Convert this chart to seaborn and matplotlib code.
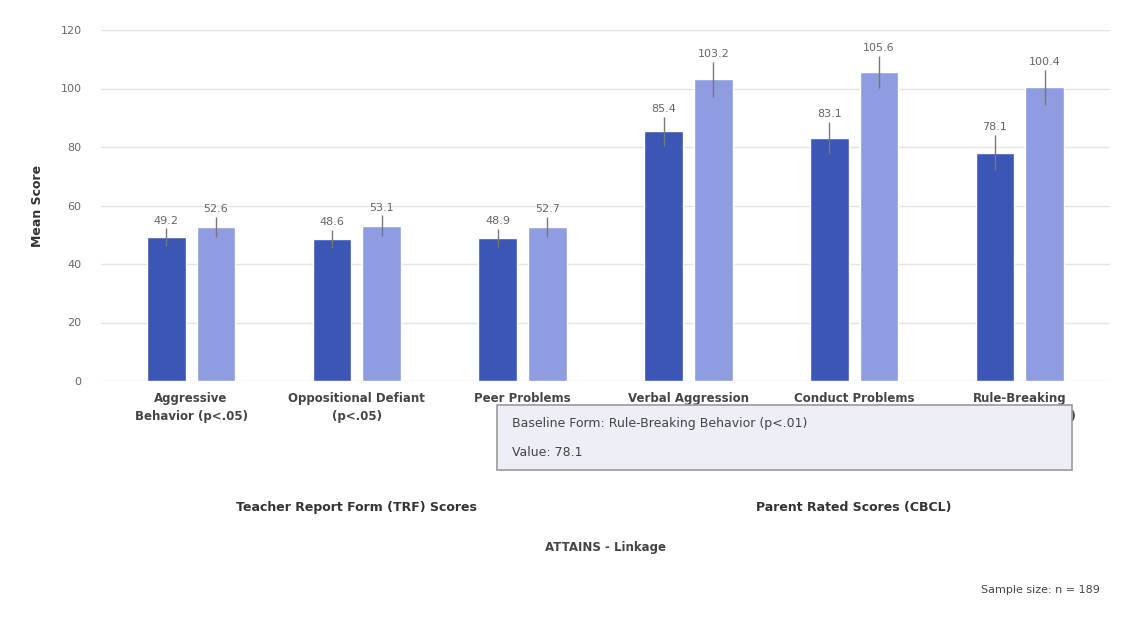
import matplotlib
matplotlib.use("Agg")
import matplotlib.pyplot as plt
from matplotlib.patches import FancyBboxPatch
import seaborn as sns
import pandas as pd

# Scale scores per subscale, two measurement waves
categories = [
    "Aggressive\nBehavior (p<.05)",
    "Oppositional Defiant\n(p<.05)",
    "Peer Problems\n(p<.05)",
    "Verbal Aggression\n(p<.01)",
    "Conduct Problems\n(p<.01)",
    "Rule-Breaking\nBehavior (p<.01)",
]
waves = ["Baseline", "Follow-up"]
baseline = [49.2, 48.6, 48.9, 85.4, 83.1, 78.1]
followup = [52.6, 53.1, 52.7, 103.2, 105.6, 100.4]
baseline_err = [3.0, 3.0, 3.0, 5.0, 5.5, 6.0]
followup_err = [3.5, 3.5, 3.5, 6.0, 5.5, 6.0]
group_labels = ["Teacher Report Form (TRF) Scores", "Parent Rated Scores (CBCL)"]
x_title = "ATTAINS - Linkage"
y_title = "Mean Score"
y_ticks = [0, 20, 40, 60, 80, 100, 120]
note = "Sample size: n = 189"
tooltip_index = 5  # highlighted point: baseline, rule-breaking

df = pd.DataFrame({
    "category": categories * 2,
    "wave": [waves[0]] * len(categories) + [waves[1]] * len(categories),
    "score": baseline + followup,
    "err": baseline_err + followup_err,
})

sns.set_theme(style="white")
plt.rcParams["font.family"] = ["DejaVu Sans"]

fig = plt.figure(figsize=(11.36, 6.35), dpi=100)
ax = fig.add_axes([101 / 1136, 1 - 381 / 635, (1110 - 101) / 1136, (381 - 30) / 635])

palette = {waves[0]: "#3b56b4", waves[1]: "#8e9ce2"}
sns.barplot(data=df, x="category", y="score", hue="wave", order=categories,
            hue_order=waves, palette=palette, width=0.6, gap=0.22,
            errorbar=None, legend=False, ax=ax, saturation=1, zorder=2)

# Error bars and value labels placed from the drawn bars
bars = [p for p in ax.patches if p.get_height() > 0]
vals = baseline + followup
errs = baseline_err + followup_err
for bar, v, e in zip(bars, vals, errs):
    cx = bar.get_x() + bar.get_width() / 2
    ax.errorbar(cx, v, yerr=e, fmt="none", ecolor="#777777", elinewidth=1.0,
                capsize=0, zorder=3)
    ax.annotate(f"{v:.1f}", (cx, v + e), xytext=(0, 2), textcoords="offset points",
                ha="center", va="bottom", fontsize=8, color="#666666", zorder=4)

ax.set_ylim(0, 120)
ax.set_yticks(y_ticks)
ax.set_yticklabels([str(t) for t in y_ticks], fontsize=8, color="#666666")
ax.yaxis.grid(True, color="#e4e4e4", linewidth=1)
ax.set_axisbelow(True)
for s in ax.spines.values():
    s.set_visible(False)
ax.tick_params(axis="y", length=0, pad=14)
ax.tick_params(axis="x", length=0, pad=8)
ax.set_xticks(range(len(categories)))
ax.set_xticklabels(categories, fontsize=8.5, color="#444444", fontweight="bold",
                   linespacing=1.5)
ax.set_xlabel("")
ax.set_ylabel(y_title, fontsize=9, fontweight="bold", color="#333333", labelpad=12)

# Group headings under the categories
for gi, lab in enumerate(group_labels):
    gx = (gi * 3 + 1)
    ax.annotate(lab, (gx, 0), xycoords=("data", "axes fraction"), xytext=(0, -91),
                textcoords="offset points", ha="center", va="center",
                fontsize=9, fontweight="bold", color="#333333")
ax.annotate(x_title, (0.5, 0), xycoords="axes fraction", xytext=(0, -120),
            textcoords="offset points", ha="center", va="center",
            fontsize=8.5, fontweight="bold", color="#444444")

fig.text(1100 / 1136, 1 - 590 / 635, note, ha="right", va="center",
         fontsize=8, color="#444444")

# Hover tooltip for the highlighted bar
x0, x1, y0, y1 = 497 / 1136, 1072 / 1136, 1 - 470 / 635, 1 - 405 / 635
box = FancyBboxPatch((x0, y0), x1 - x0, y1 - y0, boxstyle="square,pad=0",
                     transform=fig.transFigure, facecolor="#eeeef7",
                     edgecolor="#9a9a9a", linewidth=1.2, zorder=10)
fig.patches.append(box)
tip_name = categories[tooltip_index].replace("\n", " ")
fig.text(512 / 1136, 1 - 423 / 635, f"{waves[0]} Form: {tip_name}",
         ha="left", va="center", fontsize=9, color="#444444", zorder=11)
fig.text(512 / 1136, 1 - 452 / 635, f"Value: {baseline[tooltip_index]:.1f}",
         ha="left", va="center", fontsize=9, color="#444444", zorder=11)

fig.savefig("out.png", dpi=100, facecolor="white")
